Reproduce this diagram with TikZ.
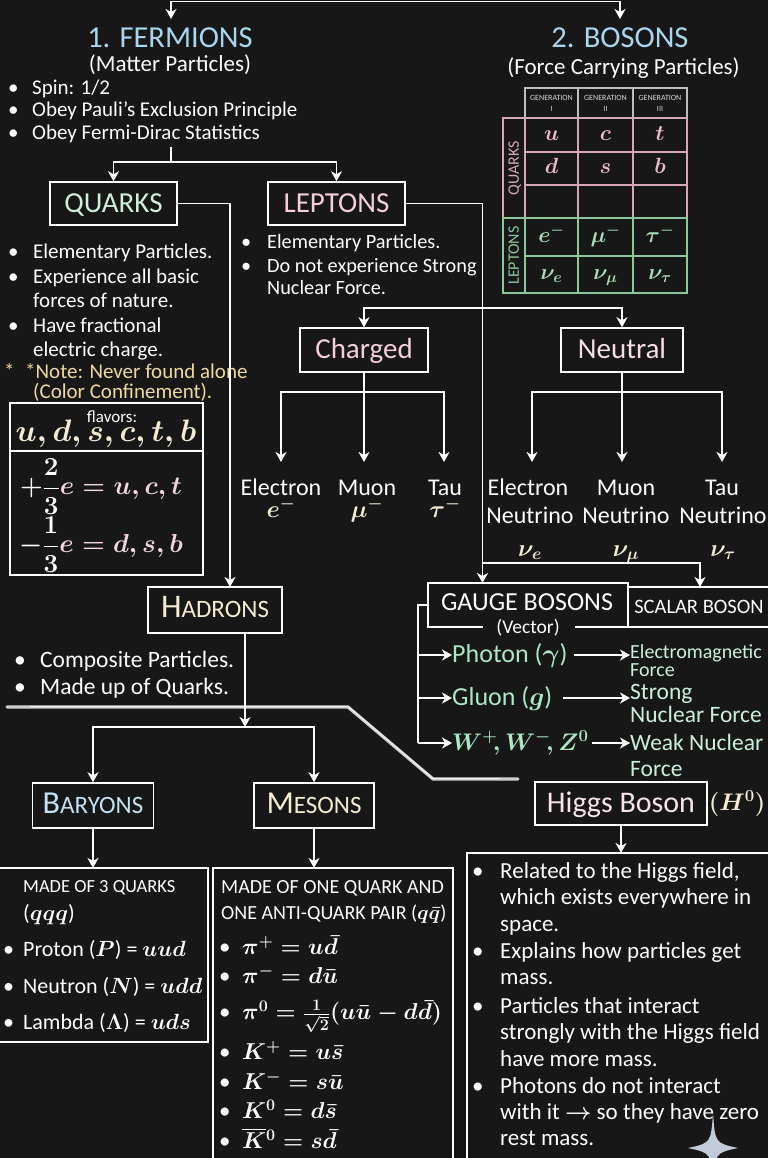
\RequirePackage{fix-cm}
\documentclass[tikz,border=0pt]{standalone}
\usepackage{amsmath}
\usepackage{fontspec}
\setmainfont{Carlito}
\usetikzlibrary{arrows.meta}
\definecolor{bg}{HTML}{171717}
\definecolor{lblue}{HTML}{A9D5EE}
\definecolor{qgreen}{HTML}{CFEFD8}
\definecolor{lpink}{HTML}{F4CEDC}
\definecolor{notey}{HTML}{EDD89E}
\definecolor{cream}{HTML}{F4ECD2}
\definecolor{ggreen}{HTML}{ACE6C2}
\definecolor{fgreen}{HTML}{CBF0D9}
\definecolor{tpink}{HTML}{D6A6B2}
\definecolor{tgreen}{HTML}{8CC79C}
\definecolor{qcell}{HTML}{EBBAC6}
\definecolor{lcell}{HTML}{A9DDB6}
\definecolor{chalkc}{HTML}{CFCFCF}
\definecolor{starc}{HTML}{C3CAD8}
\definecolor{fpink}{HTML}{F2D6DC}
\definecolor{hdr}{HTML}{BDBDBD}
\tikzset{
  tx/.style={inner sep=0pt, text=white, font=\fontsize{#1}{#1}\selectfont\boldmath,
    text height={#1*0.75pt}, text depth={#1*0.15pt}},
  bx/.style={draw=white, line width=1.5pt},
  ln/.style={draw=white, line width=1.6pt},
  ar/.style={ln, -{Stealth[length=10pt,width=11pt,inset=3pt]}},
  bl/.style={tx=#1, anchor=west},
  tl/.style={line width=1.2pt},
}
\newcommand\bul[1]{\makebox[#1][l]{•}}
\begin{document}
\begin{tikzpicture}[x=1pt,y=-1pt]
\fill[bg] (0,0) rectangle (768,1158);
\useasboundingbox (0,0) rectangle (768,1158);

% ---------- top ----------
\coordinate (tL) at (171,1.5);
\coordinate (tR) at (620,1.5);
\coordinate (tLa) at (171,19);
\coordinate (tRa) at (620,19);
\draw[ln] (tL) -- (tR);
\draw[ar] (tL) -- (tLa);
\draw[ar] (tR) -- (tRa);

\node[tx=30.5, text=lblue] (ferm) at (170,38) {1. FERMIONS};
\node[tx=23] (fermsub) at (170,65) {(Matter Particles)};
\node[tx=30.5, text=lblue] (bos) at (620,38) {2. BOSONS};
\node[tx=23] (bossub) at (623.5,68) {(Force Carrying Particles)};

\node[bl=21] (fb1) at (8,88) {\bul{24pt}Spin: 1/2};
\node[bl=21] (fb2) at (8,110) {\bul{24pt}Obey Pauli’s Exclusion Principle};
\node[bl=21] (fb3) at (8,133) {\bul{24pt}Obey Fermi-Dirac Statistics};

% ---------- quarks / leptons ----------
\node[bx, tx=29, text=qgreen, minimum width=127, minimum height=43] (quarks) at (113.5,203.5) {QUARKS};
\node[bx, tx=29, text=lpink, minimum width=137, minimum height=43] (leptons) at (336.5,203.5) {LEPTONS};

\coordinate (fsA) at (171,147);
\coordinate (fs) at (171,162);
\draw[ln] (fsA) -- (fs);
\draw[ar] (fs) -| (quarks.north);
\draw[ar] (fs) -| (leptons.north);

\node[bl=21] at (8,252) {\bul{25pt}Elementary Particles.};
\node[bl=21] at (8,277) {\bul{25pt}Experience all basic};
\node[bl=21] at (33,301) {forces of nature.};
\node[bl=21] at (8,326) {\bul{25pt}Have fractional};
\node[bl=21] at (33,350) {electric charge.};
\node[bl=21, text=notey] at (4,372) {\makebox[21pt][l]{*}*Note: Never found alone};
\node[bl=21, text=notey] at (33,392) {(Color Confinement).};

\node[bl=20.3] at (241,242) {\bul{26pt}Elementary Particles.};
\node[bl=20.3] at (241,266) {\bul{26pt}Do not experience Strong};
\node[bl=20.3] at (267,288) {Nuclear Force.};

% flavors box
\draw[ln] (10,403) rectangle (203,575);
\draw[ln] (10,451) -- (203,451);
\node[tx=17] (flv) at (112,417) {flavors:};
\node[tx=31, text=cream] (flvl) at (106,432) {$u, d, s, c, t, b$};
\node[tx=26, text=fpink] (ch1) at (101,487) {${\color{white}+\dfrac{2}{3}}e = u, c, t$};
\node[tx=26, text=fpink] (ch2) at (101,545) {${\color{white}-\dfrac{1}{3}}e = d, s, b$};

% ---------- table ----------
\draw[tl, hdr] (525,88) rectangle (687,118);
\draw[tl, hdr] (578,88) -- (578,118) (633,88) -- (633,118);
\draw[tl, tpink] (503,118) rectangle (687,218);
\draw[tl, tpink] (525,118) -- (525,218) (578,118) -- (578,218) (633,118) -- (633,218)
   (525,152) -- (687,152) (525,185) -- (687,185);
\draw[tl, tgreen] (503,218) rectangle (687,293);
\draw[tl, tgreen] (525,218) -- (525,293) (578,218) -- (578,293) (633,218) -- (633,293)
   (525,256) -- (687,256);
\foreach \x/\r in {551.5/I, 605.5/II, 660/III}{
  \node[tx=8, text=white!85!black] at (\x,98) {GENERATION};
  \node[tx=8, text=white!85!black] at (\x,109) {\r};
}
\node[tx=16, text=tpink, rotate=90] (tq) at (514,168) {QUARKS};
\node[tx=16, text=tgreen, rotate=90] (tlp) at (514,255.5) {LEPTONS};
\node[tx=22, text=qcell] at (551.5,134) {$u$};
\node[tx=22, text=qcell] at (605.5,134) {$c$};
\node[tx=22, text=qcell] at (660,134) {$t$};
\node[tx=22, text=qcell] at (551.5,167) {$d$};
\node[tx=22, text=qcell] at (605.5,167) {$s$};
\node[tx=22, text=qcell] at (660,167) {$b$};
\node[tx=22, text=lcell] at (551.5,236) {$e^{-}$};
\node[tx=22, text=lcell] at (605.5,236) {$\mu^{-}$};
\node[tx=22, text=lcell] at (660,236) {$\tau^{-}$};
\node[tx=22, text=lcell] at (551.5,273) {$\nu_{e}$};
\node[tx=22, text=lcell] at (605.5,273) {$\nu_{\mu}$};
\node[tx=22, text=lcell] at (660,273) {$\nu_{\tau}$};

% ---------- charged / neutral ----------
\node[bx, tx=29, text=lpink, minimum width=128, minimum height=44] (charged) at (364,350) {Charged};
\node[bx, tx=29, text=lpink!70!white, minimum width=122, minimum height=44] (neutral) at (622,350) {Neutral};

\coordinate (lg) at (482.5,583);
\coordinate (cn) at (482.5,308);
\coordinate (gs) at (482.5,563);
\coordinate (sc) at (700,587);
\coordinate (qh) at (230,587);
\draw[ar] (quarks.east) -| (qh);
\draw[ar] (leptons.east) -| (lg);
\draw[ar] (cn) -| (charged.north);
\draw[ar] (cn) -| (neutral.north);
\draw[ar] (gs) -| (sc);

\coordinate (cb) at (364,392);
\coordinate (ce) at (281,462);
\coordinate (cm) at (364,462);
\coordinate (ct) at (444,462);
\draw[ln] (charged.south) -- (cb);
\draw[ar] (cb) -| (ce);
\draw[ar] (cb) -- (cm);
\draw[ar] (cb) -| (ct);

\coordinate (nb) at (622,392);
\coordinate (ne) at (532,462);
\coordinate (nm) at (622,462);
\coordinate (nt) at (722,462);
\draw[ln] (neutral.south) -- (nb);
\draw[ar] (nb) -| (ne);
\draw[ar] (nb) -- (nm);
\draw[ar] (nb) -| (nt);

\node[tx=24] at (281,488) {Electron};
\node[tx=24, text=cream] at (281,510) {$e^{-}$};
\node[tx=24] at (367,488) {Muon};
\node[tx=24, text=cream] at (367,510) {$\mu^{-}$};
\node[tx=24] at (445,488) {Tau};
\node[tx=24, text=cream] at (445,510) {$\tau^{-}$};
\node[tx=24] at (528,488) {Electron};
\node[tx=24] at (530,516) {Neutrino};
\node[tx=24, text=cream] at (530,549) {$\nu_{e}$};
\node[tx=24] at (626,488) {Muon};
\node[tx=24] at (626,516) {Neutrino};
\node[tx=24, text=cream] at (626,549) {$\nu_{\mu}$};
\node[tx=24] at (722,488) {Tau};
\node[tx=24] at (723,516) {Neutrino};
\node[tx=24, text=cream] at (723,549) {$\nu_{\tau}$};

% ---------- gauge / scalar ----------
\draw[ln] (483,627) -- (428,627) -- (428,583) -- (628,583) -- (628,627);
\draw[ln] (575,627) -- (775,627);
\draw[ln] (628,587) -- (775,587);
\node[tx=26] (gauge) at (527,603) {GAUGE BOSONS};
\node[tx=19.5] (vector) at (528,628) {(Vector)};
\node[tx=20.5] (scalar) at (699,607) {SCALAR BOSON};

\node[bl=26, text=ggreen] (photon) at (452,655) {Photon ($\gamma$)};
\node[bl=26, text=ggreen] (gluon) at (452,698) {Gluon ($g$)};
\node[bl=24, text=ggreen] (wz) at (452,743) {$W^{+}\!, W^{-}\!, Z^{0}$};
\node[bl=20, text=fgreen] (emf) at (630,652) {Electromagnetic};
\node[bl=20, text=fgreen] (emf2) at (630,670) {Force};
\node[bl=23.5, text=fgreen] (snf) at (630,692) {Strong};
\node[bl=23.5, text=fgreen] (snf2) at (630,715) {Nuclear Force};
\node[bl=23.5, text=fgreen] (wnf) at (630,743) {Weak Nuclear};
\node[bl=23.5, text=fgreen] (wnf2) at (630,769) {Force};

\coordinate (bk) at (418,605);
\coordinate (bk1) at (418,655);
\coordinate (bk2) at (418,698);
\coordinate (bk3) at (418,743);
\draw[ln] (428,605) -- (bk) -- (bk3);
\draw[ar] (bk1) -- (photon.west);
\draw[ar] (bk2) -- (gluon.west);
\draw[ar] (bk3) -- (wz.west);
\draw[ar] ([xshift=6pt]photon.east) -- (photon.east -| emf.west);
\draw[ar] ([xshift=10pt]gluon.east) -- (gluon.east -| emf.west);
\draw[ar] ([xshift=3pt]wz.east) -- (wz.east -| emf.west);

% ---------- hadrons ----------
\node[bx, tx=25, text=cream, minimum width=134, minimum height=46] (hadrons) at (215,610) {{\fontsize{33}{33}\selectfont H}ADRONS};
\node[bl=23.5] at (14,660) {\bul{26pt}Composite Particles.};
\node[bl=23.5] at (14,687) {\bul{26pt}Made up of Quarks.};

\draw[chalkc, line width=3.2pt, line cap=round, line join=round]
  (7,707) -- (348,707) -- (433,779) -- (518,779);
\draw[white, line width=0.8pt, line cap=round, line join=round, opacity=0.8]
  (30,706.5) -- (348,706.5) -- (433,778.5) -- (500,778.5);

\node[bx, tx=25, text=lblue!70!white, minimum width=121, minimum height=45] (baryons) at (93,805.5) {{\fontsize{32}{32}\selectfont B}ARYONS};
\node[bx, tx=25, text=cream, minimum width=120, minimum height=45] (mesons) at (314,805.5) {{\fontsize{32}{32}\selectfont M}ESONS};

\coordinate (hb) at (245,727);
\draw[ar] ([xshift=30pt]hadrons.south) -- (hb);
\draw[ar] (hb) -| (baryons.north);
\draw[ar] (hb) -| (mesons.north);

\coordinate (bc) at (93,868);
\coordinate (mc) at (314,868);
\draw[ar] (baryons.south) -- (bc);
\draw[ar] (mesons.south) -- (mc);

% ---------- higgs ----------
\node[bx, tx=30, text=lpink!55!white, minimum width=172, minimum height=43] (higgs) at (621,803.5) {Higgs Boson};
\node[tx=24, text=cream] (h0) at (737,803) {$(H^{0})$};
\coordinate (hc) at (621,853);
\draw[ar] (higgs.south) -- (hc);

% ---------- content boxes ----------
\draw[ln] (-5,868) rectangle (208,1042);
\draw[ln] (213,868) rectangle (453,1175);
\draw[ln] (467,853) rectangle (775,1175);

\node[bl=18.5] at (23,887) {MADE OF 3 QUARKS};
\node[bl=22] at (23,914) {($qqq$)};
\node[bl=22] at (3,950) {\bul{20pt}Proton ($P$) = $uud$};
\node[bl=22] at (3,987) {\bul{20pt}Neutron ($N$) = $udd$};
\node[bl=22] at (3,1023) {\bul{20pt}Lambda ($\Lambda$) = $uds$};

\node[bl=20] at (221,887) {MADE OF ONE QUARK AND};
\node[bl=20] at (221,913) {ONE ANTI-QUARK PAIR ($q\bar{q}$)};
\node[bl=23] at (219,948) {\bul{23pt}$\pi^{+} = u\bar{d}$};
\node[bl=23] at (219,977) {\bul{23pt}$\pi^{-} = d\bar{u}$};
\node[bl=23] at (219,1013) {\bul{23pt}$\pi^{0} = \frac{1}{\sqrt{2}}(u\bar{u} - d\bar{d})$};
\node[bl=23] at (219,1053) {\bul{23pt}$K^{+} = u\bar{s}$};
\node[bl=23] at (219,1083) {\bul{23pt}$K^{-} = s\bar{u}$};
\node[bl=23] at (219,1112) {\bul{23pt}$K^{0} = d\bar{s}$};
\node[bl=23] at (219,1142) {\bul{23pt}$\overline{K}{}^{0} = s\bar{d}$};

\node[bl=23] at (472,872) {\bul{28pt}Related to the Higgs field,};
\node[bl=23] at (500,898) {which exists everywhere in};
\node[bl=23] at (500,925) {space.};
\node[bl=23] at (472,952) {\bul{28pt}Explains how particles get};
\node[bl=23] at (500,978) {mass.};
\node[bl=23] at (472,1007) {\bul{28pt}Particles that interact};
\node[bl=23] at (500,1033) {strongly with the Higgs field};
\node[bl=23] at (500,1060) {have more mass.};
\node[bl=23] at (472,1087) {\bul{28pt}Photons do not interact};
\node[bl=23] at (500,1113) {with it $\rightarrow$ so they have zero};
\node[bl=23] at (500,1139) {rest mass.};

% sparkle
\fill[starc] (713,1112) .. controls (715,1143) .. (738,1148)
  .. controls (715,1153) .. (713,1184)
  .. controls (711,1153) .. (688,1148)
  .. controls (711,1143) .. cycle;
\end{tikzpicture}
\end{document}
